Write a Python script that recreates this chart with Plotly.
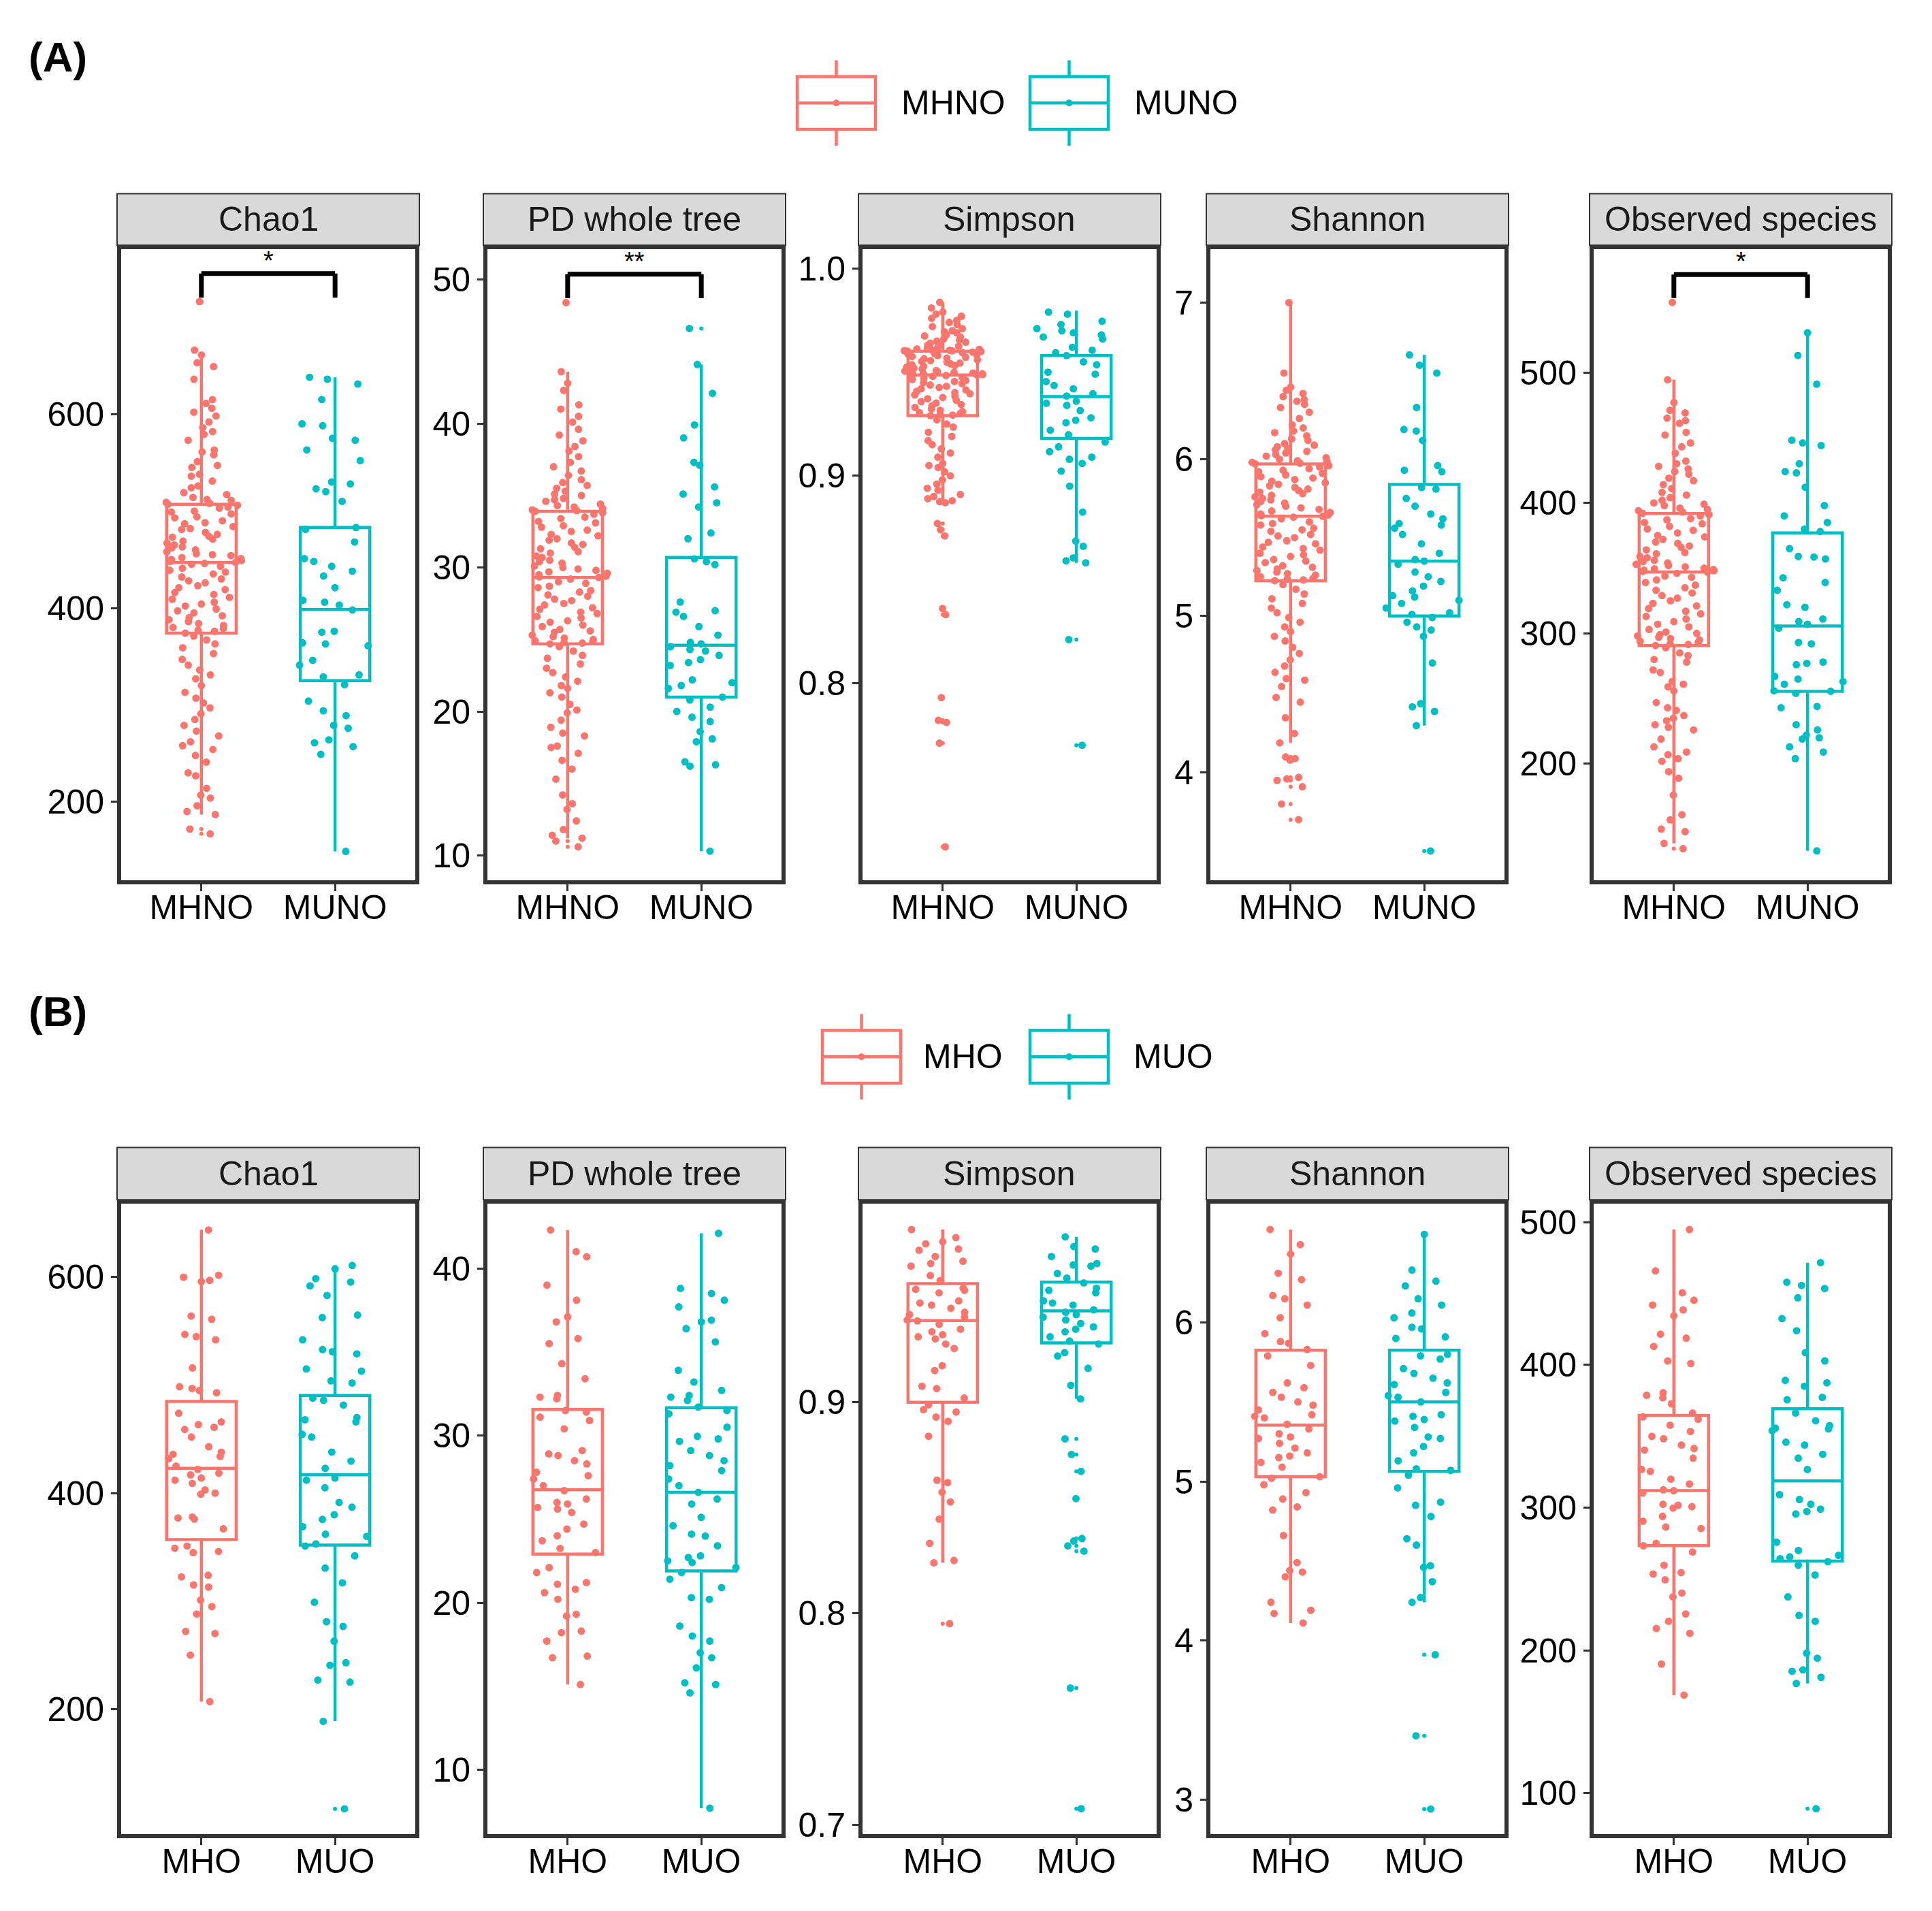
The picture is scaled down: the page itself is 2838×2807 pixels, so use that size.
import plotly.graph_objects as go

W, H = 2838, 2807
RED, CYAN = "#F8766D", "#00BFC4"
FONT = "Liberation Sans, Arial, sans-serif"
INK = "#333333"
FS = 50

# ---------------- data ----------------
groups_a = ["MHNO", "MUNO"]
groups_b = ["MHO", "MUO"]
metrics = ["Chao1", "PD whole tree", "Simpson", "Shannon", "Observed species"]

# ---- (A) Chao1 ----
chao1_a_mhno = [716, 666, 661, 653, 649, 636, 615, 611, 606, 602, 598, 592, 586, 582, 579, 573, 563, 561, 558, 551,
                547, 545, 538, 536, 531, 526, 524, 519, 517, 514, 512, 511, 509, 508, 507,
                506, 504, 503, 500, 499, 497, 494, 493, 490, 488, 487, 484, 482, 481, 478, 476, 474, 473, 471, 469,
                467, 465, 463, 462, 460, 458, 456, 455, 454, 452, 451, 450, 449, 448, 447,
                446, 445, 443, 441, 439, 437, 435, 432, 430, 428, 426, 423, 421, 419, 416, 414, 411, 409, 406, 404,
                402, 399, 397, 395, 392, 390, 388, 386, 384, 382, 380, 379, 377, 376, 374,
                371, 367, 363, 359, 353, 347, 341, 336, 331, 327, 320, 313, 307, 302, 297, 291, 285, 279, 273, 268,
                262, 258, 254, 248, 241, 230, 227, 214, 207, 204, 196, 190, 187, 172, 167]
chao1_a_muno = [638, 636, 631, 615, 590, 588, 575, 573, 563, 552, 530, 528, 523, 520, 510, 483, 481, 468, 451, 448,
                443, 438, 433, 421, 408, 406, 403, 398, 376, 375, 364, 363, 361, 346, 341, 331, 329, 321, 304, 294,
                289, 279, 276, 264, 261, 257, 249, 149]
chao1_a_mhno_box = [187, 374, 447, 507, 664]   # lower whisker, q1, median, q3, upper whisker
chao1_a_muno_box = [149, 325, 398.5, 483, 638]
chao1_a_mhno_out = [716, 172, 167]
chao1_a_muno_out = []
chao1_a_range = [119.5, 770]
chao1_a_ticks = [200, 400, 600]
chao1_a_sig = [745, 720]

# ---- (A) PD whole tree ----
pd_a_mhno = [48.4, 43.6, 42.8, 42.3, 41.3, 41.0, 40.5, 40.1, 39.6, 39.2, 38.8, 38.4, 38.1, 37.7, 37.3, 37.0, 36.7,
             36.4, 36.1, 35.9, 35.7, 35.5, 35.3, 35.1, 35.0, 34.8, 34.7, 34.6, 34.4, 34.3, 34.2, 34.1, 34.0, 33.95, 33.9,
             33.8, 33.7, 33.5, 33.4, 33.2, 33.1, 32.9, 32.8, 32.6, 32.5, 32.3, 32.2, 32.0, 31.9, 31.7, 31.6, 31.4,
             31.3, 31.1, 31.0, 30.8, 30.7, 30.5, 30.4, 30.3, 30.1, 30.0, 29.9, 29.8, 29.7, 29.6, 29.5, 29.4, 29.35, 29.3,
             29.2, 29.0, 28.9, 28.7, 28.6, 28.4, 28.3, 28.1, 28.0, 27.8, 27.7, 27.5, 27.4, 27.2, 27.1, 26.9, 26.8,
             26.6, 26.5, 26.3, 26.2, 26.0, 25.9, 25.7, 25.6, 25.5, 25.3, 25.2, 25.1, 25.0, 24.9, 24.85, 24.8, 24.75, 24.7,
             24.5, 24.2, 23.9, 23.7, 23.3, 23.0, 22.7, 22.4, 22.1, 21.8, 21.6, 21.3, 21.0, 20.5, 20.1, 19.9, 19.4,
             18.9, 18.5, 18.3, 17.6, 17.5, 17.1, 16.6, 16.0, 15.3, 14.2, 13.6, 13.2, 12.4, 11.8, 11.4, 11.2, 11.0, 10.6]
pd_a_muno = [46.6, 44.1, 42.1, 39.9, 39.0, 37.3, 37.1, 35.6, 35.1, 34.5, 34.2, 32.4, 32.0, 30.6, 30.4, 30.2, 27.6,
             27.0, 26.9, 26.6, 25.9, 25.3, 24.8, 24.7, 24.5, 24.3, 24.2, 23.9, 23.6, 23.4, 23.2, 22.2, 22.0, 21.8,
             21.6, 21.0, 20.8, 20.3, 20.0, 19.6, 19.3, 18.6, 18.1, 17.9, 16.5, 16.3, 16.2, 10.3]
pd_a_mhno_box = [11.2, 24.7, 29.3, 33.9, 43.6]
pd_a_muno_box = [10.3, 21.0, 24.6, 30.7, 44.1]
pd_a_mhno_out = [48.4, 11.0, 10.6]
pd_a_muno_out = [46.6]
pd_a_range = [8.3, 52.1]
pd_a_ticks = [10, 20, 30, 40, 50]
pd_a_sig = [50.37, 48.7]

# ---- (A) Simpson ----
simpson_a_mhno = [0.9837, 0.981, 0.979, 0.978, 0.977, 0.976, 0.975, 0.974, 0.973, 0.972, 0.971, 0.970, 0.9695, 0.969,
                  0.968, 0.9675, 0.967, 0.966, 0.9655, 0.965, 0.9645, 0.964, 0.9635, 0.963, 0.9625, 0.962, 0.9615,
                  0.9612, 0.961, 0.9608, 0.9606, 0.9605, 0.9604, 0.9603, 0.9602,
                  0.9600, 0.9597, 0.9594, 0.959, 0.9587, 0.9584, 0.958, 0.9576, 0.9572, 0.9568, 0.9565, 0.956, 0.9556,
                  0.9552, 0.9548, 0.9544, 0.954, 0.9536, 0.9532, 0.9528, 0.9524, 0.952, 0.9516, 0.9512, 0.9508,
                  0.9505, 0.9502, 0.9499, 0.9496, 0.9494, 0.9492, 0.949, 0.9489, 0.9488, 0.9487,
                  0.9484, 0.948, 0.9475, 0.947, 0.9465, 0.946, 0.9455, 0.945, 0.9444, 0.9438, 0.9432, 0.9426, 0.942,
                  0.9414, 0.9408, 0.9402, 0.9396, 0.939, 0.9384, 0.9378, 0.9372, 0.9365, 0.9358, 0.9351, 0.9344,
                  0.9337, 0.933, 0.9323, 0.9316, 0.931, 0.9305, 0.93, 0.9296, 0.9293, 0.929,
                  0.927, 0.925, 0.9235, 0.921, 0.919, 0.917, 0.915, 0.913, 0.911, 0.909, 0.906, 0.904, 0.902, 0.900,
                  0.898, 0.896, 0.894, 0.893, 0.891, 0.889, 0.888, 0.887, 0.8875, 0.890, 0.905,
                  0.877, 0.874, 0.871, 0.836, 0.833, 0.793, 0.782, 0.781, 0.771, 0.721]
simpson_a_muno = [0.979, 0.978, 0.9746, 0.973, 0.971, 0.970, 0.969, 0.968, 0.967, 0.966, 0.962, 0.9606, 0.9594, 0.958,
                  0.955, 0.9536, 0.950, 0.949, 0.9455, 0.9436, 0.942, 0.9396, 0.9385, 0.936, 0.935, 0.934, 0.9315,
                  0.928, 0.9268, 0.9256, 0.922, 0.9198, 0.9163, 0.914, 0.9117, 0.909, 0.908, 0.906, 0.9023, 0.895,
                  0.8825, 0.8685, 0.866, 0.8604, 0.859, 0.858, 0.821, 0.770]
simpson_a_mhno_box = [0.887, 0.929, 0.9487, 0.9601, 0.9837]
simpson_a_muno_box = [0.858, 0.918, 0.9382, 0.958, 0.9797]
simpson_a_mhno_out = [0.877, 0.874, 0.871, 0.836, 0.833, 0.793, 0.782, 0.781, 0.771, 0.721]
simpson_a_muno_out = [0.821, 0.770]
simpson_a_range = [0.705, 1.0093]
simpson_a_ticks = [0.8, 0.9, 1.0]

# ---- (A) Shannon ----
shannon_a_mhno = [7.0, 6.55, 6.46, 6.44, 6.42, 6.40, 6.38, 6.37, 6.35, 6.33, 6.30, 6.26, 6.22, 6.20, 6.18, 6.17, 6.15,
                  6.13, 6.12, 6.10, 6.09, 6.08, 6.07, 6.06, 6.05, 6.04, 6.03, 6.02, 6.01, 6.00, 5.99, 5.985, 5.98,
                  5.975, 5.97,
                  5.96, 5.95, 5.94, 5.93, 5.92, 5.91, 5.90, 5.89, 5.88, 5.87, 5.86, 5.85, 5.84, 5.83, 5.82, 5.81, 5.80,
                  5.79, 5.78, 5.77, 5.76, 5.75, 5.74, 5.73, 5.72, 5.71, 5.70, 5.69, 5.68, 5.67, 5.66, 5.65, 5.645,
                  5.64, 5.636,
                  5.63, 5.62, 5.60, 5.59, 5.58, 5.56, 5.55, 5.54, 5.52, 5.51, 5.50, 5.48, 5.47, 5.46, 5.44, 5.43, 5.42,
                  5.40, 5.39, 5.38, 5.36, 5.35, 5.34, 5.32, 5.31, 5.30, 5.29, 5.28, 5.27, 5.26, 5.25, 5.24, 5.235,
                  5.23, 5.225,
                  5.20, 5.17, 5.14, 5.11, 5.08, 5.05, 5.02, 4.99, 4.96, 4.93, 4.90, 4.87, 4.84, 4.80, 4.76, 4.72, 4.68,
                  4.64, 4.59, 4.55, 4.48, 4.45, 4.35, 4.25, 4.19, 4.6,
                  4.10, 4.09, 4.08, 3.97, 3.96, 3.95, 3.91, 3.80, 3.70]
shannon_a_muno = [6.666, 6.60, 6.55, 6.33, 6.19, 6.18, 6.12, 5.96, 5.93, 5.92, 5.82, 5.81, 5.75, 5.70, 5.65, 5.62,
                  5.59, 5.58, 5.56, 5.52, 5.46, 5.40, 5.36, 5.35, 5.33, 5.28, 5.25, 5.22, 5.19, 5.16, 5.13, 5.12,
                  5.10, 5.08, 5.05, 5.02, 5.01, 4.99, 4.96, 4.93, 4.91, 4.87, 4.70, 4.44, 4.42, 4.39, 4.30, 3.50]
shannon_a_mhno_box = [4.19, 5.225, 5.636, 5.97, 7.0]
shannon_a_muno_box = [4.30, 5.0, 5.35, 5.84, 6.666]
shannon_a_mhno_out = [4.10, 4.09, 4.08, 3.97, 3.96, 3.95, 3.91, 3.80, 3.70]
shannon_a_muno_out = [3.50]
shannon_a_range = [3.315, 7.34]
shannon_a_ticks = [4, 5, 6, 7]

# ---- (A) Observed species ----
obs_a_mhno = [553.7, 494.4, 477, 471, 469, 465, 463, 461, 454, 452, 446, 443, 438, 432, 430, 428, 426, 424, 422, 419,
              417, 414, 411, 408, 406, 404, 402, 400, 399, 398, 396, 395, 394, 393, 392,
              391, 390, 388, 387, 385, 384, 382, 380, 379, 377, 375, 374, 372, 370, 369, 367, 366, 364, 362, 361,
              359, 358, 356, 355, 354, 353, 352, 351, 350, 349.5, 349, 348.5, 348, 347.5, 347,
              346, 344, 343, 341, 339, 337, 335, 333, 331, 329, 327, 325, 323, 321, 319, 317, 315, 313, 311, 309,
              307, 305, 303, 301, 300, 299, 298, 297, 296, 295, 294, 293, 292, 291.5, 290.7,
              289, 285, 283, 280, 278, 272, 270, 263, 261, 259, 256, 247, 243, 241, 237, 235, 233, 230, 228, 226,
              219, 213, 209, 207, 204, 202, 194, 189, 176, 161, 157, 150, 148, 139, 135]
obs_a_muno = [530.4, 513, 491, 448, 446, 444, 430, 424, 423, 412, 398, 390, 385, 380, 378, 365, 359, 358.5, 357,
              342.6, 339, 333, 322, 320, 311, 309, 307, 304, 293, 292, 278, 277, 276, 267, 265, 263, 261, 256,
              255.6, 254, 244, 243, 230, 226, 222, 220, 219, 213, 209, 204, 133.3]
obs_a_mhno_box = [139, 290.7, 347, 391.9, 494.4]
obs_a_muno_box = [133.3, 255.6, 305.6, 377, 530.4]
obs_a_mhno_out = [553.7, 135]
obs_a_muno_out = []
obs_a_range = [111, 594.4]
obs_a_ticks = [200, 300, 400, 500]
obs_a_sig = [575, 557]

# ---- (B) Chao1 ----
chao1_b_mho = [643.7, 601.8, 600, 597, 596, 564, 561, 547, 545, 542, 516, 498.6, 497, 495, 493, 474, 466, 463.5, 461,
               459, 452, 443, 438, 436, 434, 432, 425, 422, 418.5, 417, 414, 412, 409, 403, 400, 399, 378, 377, 376,
               367, 351, 349, 346, 345, 324, 322.5, 315, 313, 301, 295, 288, 272, 270, 250, 207]
chao1_b_muo = [610.8, 607.7, 598.6, 595.5, 592, 583, 565, 562.6, 542, 533, 531, 529, 515, 513, 504, 502, 488, 486,
               481.5, 470, 468, 466, 454.5, 452, 438, 429.7, 423, 414, 412, 405, 391.4, 387, 380, 375.7, 369, 362,
               360, 353, 351, 342, 330.6, 317, 299, 281, 276.6, 263, 243, 240.6, 227, 225, 188.7, 107.7]
chao1_b_mho_box = [207, 357, 423, 485, 644]
chao1_b_muo_box = [189, 352, 417, 490.5, 611]
chao1_b_mho_out = []
chao1_b_muo_out = [107.7]
chao1_b_range = [84, 668]
chao1_b_ticks = [200, 400, 600]

# ---- (B) PD whole tree ----
pd_b_mho = [42.3, 41.0, 40.7, 39.0, 38.1, 36.8, 37.1, 35.8, 35.5, 34.3, 33.4, 32.4, 32.3, 32.2, 31.5, 31.4, 31.1,
            30.9, 30.4, 29.1, 28.9, 28.8, 28.5, 28.3, 27.8, 27.6, 27.4, 27.0, 26.7, 26.2, 26.0, 25.9, 25.7, 25.6,
            25.4, 24.7, 24.4, 24.0, 23.7, 23.25, 23.0, 22.1, 21.8, 21.2, 21.1, 20.8, 20.6, 20.2, 19.3, 19.2, 18.3,
            18.2, 17.7, 16.8, 16.7, 15.1]
pd_b_muo = [42.1, 38.8, 38.5, 38.1, 37.7, 36.9, 36.8, 36.4, 35.6, 33.9, 33.2, 32.7, 32.4, 32.3, 32.1, 31.7, 31.5,
            31.3, 30.5, 29.95, 29.8, 29.65, 29.1, 28.8, 28.5, 28.2, 27.9, 27.4, 27.0, 26.6, 26.2, 25.9, 25.1, 24.6,
            24.1, 23.98, 23.4, 22.8, 22.7, 22.5, 22.4, 22.1, 21.8, 21.4, 20.9, 20.3, 20.2, 18.6, 18.0, 17.7, 17.0,
            16.7, 16.1, 15.2, 15.1, 14.6, 7.7]
pd_b_mho_box = [15.1, 22.9, 26.75, 31.56, 42.3]
pd_b_muo_box = [7.7, 21.9, 26.6, 31.66, 42.1]
pd_b_mho_out = []
pd_b_muo_out = []
pd_b_range = [6.13, 43.87]
pd_b_ticks = [10, 20, 30, 40]

# ---- (B) Simpson ----
simpson_b_mho = [0.9818, 0.978, 0.976, 0.975, 0.9726, 0.972, 0.969, 0.9668, 0.9657, 0.9645, 0.960, 0.9576, 0.954,
                 0.9535, 0.953, 0.9518, 0.948, 0.947, 0.946, 0.9445, 0.9426, 0.9415, 0.9403, 0.939, 0.9385, 0.9369,
                 0.9346, 0.9334, 0.932, 0.931, 0.930, 0.9276, 0.9255, 0.9173, 0.915, 0.9076, 0.9065, 0.902, 0.8988,
                 0.8965, 0.8954, 0.893, 0.891, 0.8839, 0.8631, 0.862, 0.8574, 0.8528, 0.8447, 0.8332, 0.8251, 0.824,
                 0.7952]
simpson_b_muo = [0.9783, 0.9737, 0.9726, 0.969, 0.9657, 0.965, 0.9645, 0.961, 0.9588, 0.9565, 0.954, 0.953, 0.9518,
                 0.948, 0.947, 0.946, 0.9438, 0.9426, 0.9415, 0.9403, 0.939, 0.9373, 0.9357, 0.9346, 0.9334, 0.931,
                 0.929, 0.9276, 0.9235, 0.9219, 0.9161, 0.908, 0.9016, 0.8827, 0.8753, 0.8673, 0.8544, 0.8355,
                 0.8343, 0.832, 0.8295, 0.7647, 0.7076]
simpson_b_mho_box = [0.824, 0.900, 0.9387, 0.9562, 0.9818]
simpson_b_muo_box = [0.9016, 0.9281, 0.9433, 0.9569, 0.9783]
simpson_b_mho_out = [0.7952]
simpson_b_muo_out = [0.8827, 0.8753, 0.8673, 0.8544, 0.8355, 0.832, 0.8295, 0.7647, 0.7076]
simpson_b_range = [0.6954, 0.994]
simpson_b_ticks = [0.7, 0.8, 0.9]

# ---- (B) Shannon ----
shannon_b_mho = [6.585, 6.49, 6.43, 6.31, 6.27, 6.17, 6.15, 6.11, 6.03, 5.93, 5.88, 5.87, 5.83, 5.79, 5.73, 5.62,
                 5.59, 5.56, 5.53, 5.50, 5.48, 5.45, 5.42, 5.41, 5.40, 5.36, 5.33, 5.30, 5.28, 5.27, 5.24, 5.21, 5.18,
                 5.16, 5.15, 5.12, 5.09, 5.03, 5.02, 4.98, 4.93, 4.89, 4.84, 4.82, 4.66, 4.49, 4.44, 4.43, 4.40, 4.24,
                 4.19, 4.17, 4.11]
shannon_b_muo = [6.554, 6.33, 6.26, 6.23, 6.15, 6.11, 6.06, 6.03, 5.97, 5.96, 5.91, 5.90, 5.80, 5.79, 5.77, 5.71,
                 5.68, 5.65, 5.62, 5.61, 5.56, 5.54, 5.53, 5.50, 5.42, 5.41, 5.39, 5.38, 5.34, 5.28, 5.27, 5.22, 5.18,
                 5.13, 5.08, 5.07, 5.04, 4.96, 4.87, 4.85, 4.78, 4.64, 4.60, 4.47, 4.46, 4.37, 4.27, 4.24, 3.91, 3.40,
                 2.94]
shannon_b_mho_box = [4.11, 5.03, 5.355, 5.826, 6.585]
shannon_b_muo_box = [4.24, 5.064, 5.50, 5.826, 6.554]
shannon_b_mho_out = []
shannon_b_muo_out = [3.91, 3.40, 2.94]
shannon_b_range = [2.78, 6.747]
shannon_b_ticks = [3, 4, 5, 6]

# ---- (B) Observed species ----
obs_b_mho = [494.9, 465.9, 450.6, 445.4, 442, 438.6, 434.5, 421.6, 418.8, 413, 402.8, 401, 380.6, 378.8, 377, 372.8,
             366.3, 363.6, 361.9, 357.8, 353.4, 350, 348.3, 343.9, 341.5, 340.4, 334.7, 326.8, 325.4, 320, 316.6,
             312.5, 311.9, 310.2, 302.4, 301.7, 300.7, 299.7, 293.9, 290.5, 286.4, 285.4, 275, 273.3, 268.9, 259.6,
             254.5, 253.5, 249.4, 240.2, 237.5, 225.5, 220.4, 215.3, 211.9, 190.4, 168.6]
obs_b_muo = [471.7, 458, 455.7, 453.6, 447.1, 432.5, 424, 408.7, 402.8, 389.2, 387.5, 385.1, 377.3, 375.6, 366.3,
             360.9, 357.5, 355.7, 355.2, 354, 345.9, 343.9, 337.4, 334.7, 326.8, 309.1, 305.7, 302.4, 299, 297.3,
             295.6, 275.8, 270, 266.6, 265.5, 264.2, 262.2, 259.6, 252.8, 237.5, 224.5, 220.4, 198, 194.5, 186.3,
             185.3, 181.1, 176.8, 89]
obs_b_mho_box = [168.6, 273.4, 311.9, 364.7, 494.9]
obs_b_muo_box = [176.8, 262.6, 318.8, 369.3, 471.7]
obs_b_mho_out = []
obs_b_muo_out = [89]
obs_b_range = [71, 513]
obs_b_ticks = [100, 200, 300, 400, 500]

panels = [
    (0, 0, groups_a, [chao1_a_mhno, chao1_a_muno], [chao1_a_mhno_box, chao1_a_muno_box],
     [chao1_a_mhno_out, chao1_a_muno_out], chao1_a_range, chao1_a_ticks, chao1_a_sig, "*"),
    (0, 1, groups_a, [pd_a_mhno, pd_a_muno], [pd_a_mhno_box, pd_a_muno_box],
     [pd_a_mhno_out, pd_a_muno_out], pd_a_range, pd_a_ticks, pd_a_sig, "**"),
    (0, 2, groups_a, [simpson_a_mhno, simpson_a_muno], [simpson_a_mhno_box, simpson_a_muno_box],
     [simpson_a_mhno_out, simpson_a_muno_out], simpson_a_range, simpson_a_ticks, None, None),
    (0, 3, groups_a, [shannon_a_mhno, shannon_a_muno], [shannon_a_mhno_box, shannon_a_muno_box],
     [shannon_a_mhno_out, shannon_a_muno_out], shannon_a_range, shannon_a_ticks, None, None),
    (0, 4, groups_a, [obs_a_mhno, obs_a_muno], [obs_a_mhno_box, obs_a_muno_box],
     [obs_a_mhno_out, obs_a_muno_out], obs_a_range, obs_a_ticks, obs_a_sig, "*"),
    (1, 0, groups_b, [chao1_b_mho, chao1_b_muo], [chao1_b_mho_box, chao1_b_muo_box],
     [chao1_b_mho_out, chao1_b_muo_out], chao1_b_range, chao1_b_ticks, None, None),
    (1, 1, groups_b, [pd_b_mho, pd_b_muo], [pd_b_mho_box, pd_b_muo_box],
     [pd_b_mho_out, pd_b_muo_out], pd_b_range, pd_b_ticks, None, None),
    (1, 2, groups_b, [simpson_b_mho, simpson_b_muo], [simpson_b_mho_box, simpson_b_muo_box],
     [simpson_b_mho_out, simpson_b_muo_out], simpson_b_range, simpson_b_ticks, None, None),
    (1, 3, groups_b, [shannon_b_mho, shannon_b_muo], [shannon_b_mho_box, shannon_b_muo_box],
     [shannon_b_mho_out, shannon_b_muo_out], shannon_b_range, shannon_b_ticks, None, None),
    (1, 4, groups_b, [obs_b_mho, obs_b_muo], [obs_b_mho_box, obs_b_muo_box],
     [obs_b_mho_out, obs_b_muo_out], obs_b_range, obs_b_ticks, None, None),
]

# ---------------- layout geometry (pixels) ----------------
LEFTS = [172, 710, 1261, 1772, 2335]
PW = 444
BW = 6
STRIP_TOP = [286, 1694]
STRIP_BOT = [362, 1771]
INNER_BOT = [1299, 2708]
COLORS = [RED, CYAN]


def fx(p):
    return p / W


def fy(p):
    return 1 - p / H


fig = go.Figure()
layout = dict(
    width=W, height=H, margin=dict(l=0, r=0, t=0, b=0),
    paper_bgcolor="white", plot_bgcolor="white",
    boxmode="overlay", showlegend=False,
    font=dict(family=FONT, size=FS, color="black"),
)
shapes = []
annotations = []

for idx, (row, col, groups, vals, boxes, outs, yr, ticks, sig, star) in enumerate(panels):
    n = idx + 1
    xa = "x" if n == 1 else f"x{n}"
    ya = "y" if n == 1 else f"y{n}"
    L = LEFTS[col]
    layout["xaxis" if n == 1 else f"xaxis{n}"] = dict(
        domain=[fx(L + BW), fx(L + PW - BW)], anchor=ya,
        type="category", categoryorder="array", categoryarray=groups, range=[-0.6, 1.6],
        showgrid=False, zeroline=False, showline=True, mirror=True, linewidth=BW, linecolor=INK,
        ticks="outside", ticklen=10, tickwidth=3, tickcolor=INK, ticklabelstandoff=-19,
        tickfont=dict(size=FS, color="black", family=FONT), fixedrange=True,
    )
    ydict = dict(
        domain=[fy(INNER_BOT[row]), fy(STRIP_BOT[row] + BW)], anchor=xa,
        range=yr, tickvals=ticks,
        showgrid=False, zeroline=False, showline=True, mirror=True, linewidth=BW, linecolor=INK,
        ticks="outside", ticklen=9, tickwidth=3, tickcolor=INK,
        tickfont=dict(size=FS, color="black", family=FONT), fixedrange=True,
    )
    if col == 2:
        ydict["tickformat"] = ".1f"
    layout["yaxis" if n == 1 else f"yaxis{n}"] = ydict

    for g, v, b, o, c in zip(groups, vals, boxes, outs, COLORS):
        fig.add_trace(go.Box(
            x=[g], lowerfence=[b[0]], q1=[b[1]], median=[b[2]], q3=[b[3]], upperfence=[b[4]],
            xaxis=xa, yaxis=ya, width=0.52, whiskerwidth=0, boxpoints=False,
            line=dict(color=c, width=4.5), fillcolor="rgba(255,255,255,0)", hoverinfo="skip",
        ))
        fig.add_trace(go.Box(
            x=[g] * len(v), y=v, xaxis=xa, yaxis=ya, width=0.6,
            boxpoints="all", jitter=1, pointpos=0, whiskerwidth=0,
            line=dict(color="rgba(0,0,0,0)", width=0), fillcolor="rgba(0,0,0,0)",
            marker=dict(color=c, size=11, line=dict(width=0)), hoverinfo="skip",
        ))
        if o:
            fig.add_trace(go.Scatter(
                x=[g] * len(o), y=o, xaxis=xa, yaxis=ya, mode="markers",
                marker=dict(color=c, size=6), hoverinfo="skip",
            ))

    # strip
    shapes.append(dict(type="rect", xref="paper", yref="paper",
                       x0=fx(L), x1=fx(L + PW), y0=fy(STRIP_BOT[row]), y1=fy(STRIP_TOP[row]),
                       fillcolor="#D9D9D9", line=dict(color=INK, width=2), layer="below"))
    annotations.append(dict(xref="paper", yref="paper", x=fx(L + PW / 2),
                            y=fy((STRIP_TOP[row] + STRIP_BOT[row]) / 2),
                            text=metrics[col], showarrow=False, xanchor="center", yanchor="middle",
                            font=dict(size=FS, color="#1A1A1A", family=FONT)))

    # significance bracket
    if sig is not None:
        top, leg = sig
        for x0, y0, x1, y1 in [(0, leg, 0, top), (0, top, 1, top), (1, top, 1, leg)]:
            shapes.append(dict(type="line", xref=xa, yref=ya, x0=x0, y0=y0, x1=x1, y1=y1,
                               line=dict(color="black", width=7)))
        annotations.append(dict(xref=xa, yref=ya, x=0.5, y=top, text=star, showarrow=False,
                                xanchor="center", yanchor="bottom", yshift=-4,
                                font=dict(size=38, color="black", family=FONT)))

# panel letters
for label, yc in [("(A)", 84), ("(B)", 1493)]:
    annotations.append(dict(xref="paper", yref="paper", x=fx(40), y=fy(yc), text=f"<b>{label}</b>",
                            showarrow=False, xanchor="left", yanchor="middle",
                            font=dict(size=62, color="black", family=FONT)))

# legends (ggplot-style box keys)
legend_specs = [
    (152, [(1171, 1286, 1322, groups_a[0], RED), (1513, 1628, 1664, groups_a[1], CYAN)]),
    (1560, [(1208, 1323, 1354, groups_b[0], RED), (1513, 1628, 1663, groups_b[1], CYAN)]),
]
for yc, keys in legend_specs:
    for x0, x1, xt, name, c in keys:
        xm = (x0 + x1) / 2
        shapes.append(dict(type="rect", xref="paper", yref="paper", x0=fx(x0), x1=fx(x1),
                           y0=fy(yc + 39), y1=fy(yc - 39), line=dict(color=c, width=4.5),
                           fillcolor="white"))
        shapes.append(dict(type="line", xref="paper", yref="paper", x0=fx(x0), x1=fx(x1),
                           y0=fy(yc), y1=fy(yc), line=dict(color=c, width=4.5)))
        shapes.append(dict(type="line", xref="paper", yref="paper", x0=fx(xm), x1=fx(xm),
                           y0=fy(yc - 39), y1=fy(yc - 63), line=dict(color=c, width=4.5)))
        shapes.append(dict(type="line", xref="paper", yref="paper", x0=fx(xm), x1=fx(xm),
                           y0=fy(yc + 39), y1=fy(yc + 63), line=dict(color=c, width=4.5)))
        shapes.append(dict(type="circle", xref="paper", yref="paper", x0=fx(xm - 5), x1=fx(xm + 5),
                           y0=fy(yc + 5), y1=fy(yc - 5), line=dict(width=0), fillcolor=c))
        annotations.append(dict(xref="paper", yref="paper", x=fx(xt), y=fy(yc), text=name,
                                showarrow=False, xanchor="left", yanchor="middle",
                                font=dict(size=FS, color="black", family=FONT)))

layout["shapes"] = shapes
layout["annotations"] = annotations
fig.update_layout(**layout)
fig.write_html("out.html", config={"displayModeBar": False},
               post_script="document.body.style.margin='0px';")
